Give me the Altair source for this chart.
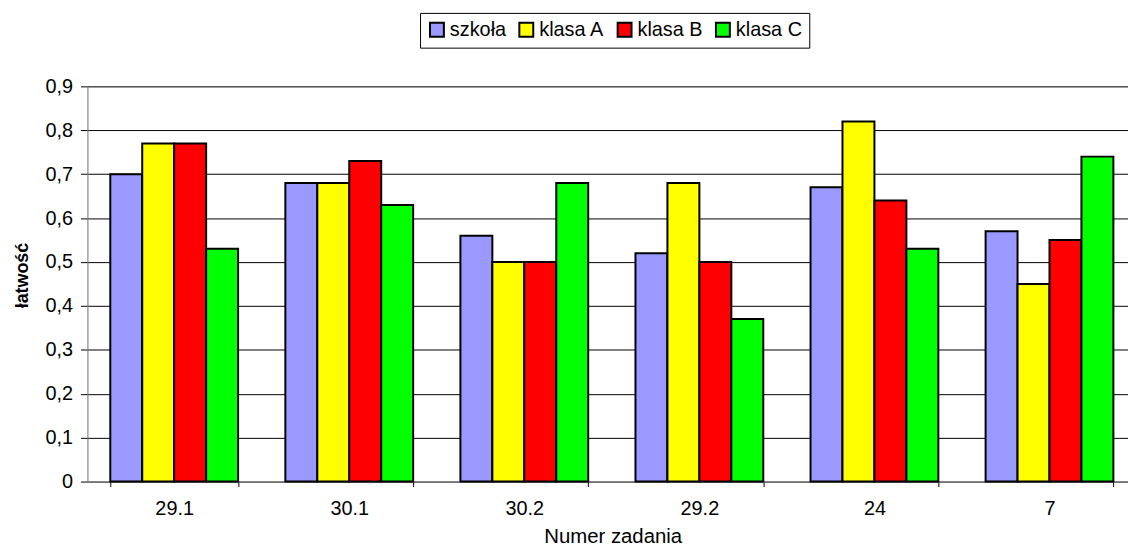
import altair as alt
import pandas as pd

categories = ["29.1", "30.1", "30.2", "29.2", "24", "7"]
series = ["szkoła", "klasa A", "klasa B", "klasa C"]
colors = ["#9999FF", "#FFFF00", "#FF0000", "#00FF00"]
szkola = [0.70, 0.68, 0.56, 0.52, 0.67, 0.57]
klasa_a = [0.77, 0.68, 0.50, 0.68, 0.82, 0.45]
klasa_b = [0.77, 0.73, 0.50, 0.50, 0.64, 0.55]
klasa_c = [0.53, 0.63, 0.68, 0.37, 0.53, 0.74]
y_ticks = [0, 0.1, 0.2, 0.3, 0.4, 0.5, 0.6, 0.7, 0.8, 0.9]

rows = []
for s, vals in zip(series, [szkola, klasa_a, klasa_b, klasa_c]):
    for c, v in zip(categories, vals):
        rows.append({"zadanie": c, "seria": s, "wartosc": v})
df = pd.DataFrame(rows)

FONT = "Liberation Sans"

chart = alt.Chart(df).mark_bar(stroke="black", strokeWidth=2).encode(
    x=alt.X("zadanie:N", sort=categories,
            scale=alt.Scale(paddingInner=0.27, paddingOuter=0.107, align=0.61),
            axis=alt.Axis(title="Numer zadania", labelAngle=0, tickBand="extent",
                          labelFontSize=20, labelFont=FONT, labelColor="black",
                          labelPadding=12, tickSize=5, tickColor="black",
                          domainColor="#808080", titleFont=FONT, titleFontSize=20.5,
                          titleFontWeight="normal", titleColor="black",
                          titleX=529, titleY=61, titleBaseline="alphabetic",
                          titleAnchor="start", titleAlign="center", grid=False)),
    xOffset=alt.XOffset("seria:N", sort=series, scale=alt.Scale(paddingInner=0, paddingOuter=0)),
    y=alt.Y("wartosc:Q", scale=alt.Scale(domain=[0, 0.9], nice=False, zero=True),
            axis=alt.Axis(title="łatwość", values=y_ticks,
                          labelExpr="datum.value == 0 ? '0' : replace(format(datum.value, '.1f'), '.', ',')",
                          labelFontSize=20, labelFont=FONT, labelColor="black",
                          labelPadding=8, tickSize=7, tickColor="black",
                          domainColor="#808080", grid=True, gridColor="black",
                          gridWidth=1, titleFont=FONT, titleFontSize=18,
                          titleFontWeight="bold", titleColor="black",
                          titleX=-65, titleY=190, titleAngle=270,
                          titleAlign="center", titleBaseline="middle")),
    color=alt.Color("seria:N", sort=series,
                    scale=alt.Scale(domain=series, range=colors),
                    legend=alt.Legend(title=None, orient="none", legendX=335, legendY=-74,
                                      direction="horizontal", symbolType="square",
                                      symbolSize=196, symbolStrokeColor="black",
                                      symbolStrokeWidth=2, symbolOpacity=1,
                                      labelFont=FONT, labelFontSize=20, labelColor="black",
                                      labelOffset=3, columnPadding=9, padding=7,
                                      strokeColor="black", fillColor="white")),
).properties(
    width=1048, height=398,
    autosize=alt.AutoSizeParams(type="none"),
    padding={"left": 80, "top": 77, "right": 0, "bottom": 67},
).configure_view(stroke=None).configure(background="white")

chart.save("out.html", embed_options={"renderer": "svg", "actions": False})
